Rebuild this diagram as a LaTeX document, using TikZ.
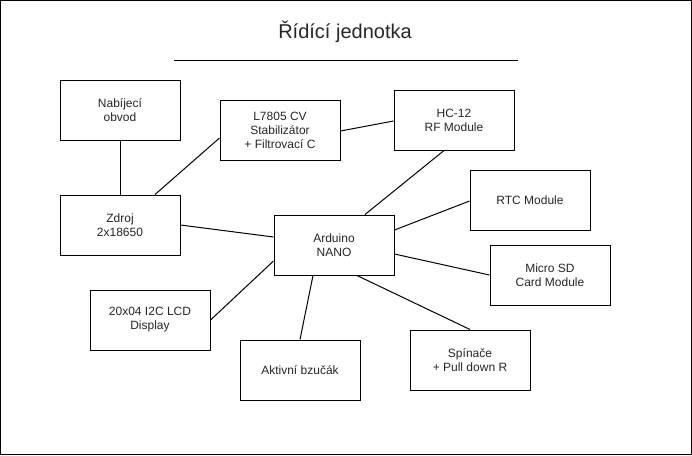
\documentclass[tikz,border=0pt]{standalone}
\usepackage{fontspec}
\setmainfont{Liberation Sans}
\usetikzlibrary{positioning, calc}
\tikzset{
    blok/.style={rectangle, draw=black, line width=0.75pt, minimum width=90pt,
        minimum height=45pt, align=center, inner sep=0pt, text=black!85,
        font=\fontsize{9}{10.5}\selectfont},
    spoj/.style={draw=black, line width=0.75pt},
    nadpis/.style={text=black!85, font=\fontsize{15}{18}\selectfont}}

\begin{document}
\begin{tikzpicture}[x=0.75pt, y=-0.75pt]
    \useasboundingbox (0,0) rectangle (692,455);
    \draw[line width=1pt] (0.7,0.7) rectangle (691.3,454.3);
    % nadpis
    \node (titul) [nadpis] at (345,32) {Řídící jednotka};
    \coordinate (cara1) at (174,60);
    \coordinate (cara2) at (518,60);
    \draw[spoj] (cara1) -- (cara2);
    % bloky
    \node (nabijeni) [blok] at (120,110) {Nabíjecí\\obvod};
    \node (zdroj) [blok] at (120,225) {Zdroj\\2x18650};
    \node (stab) [blok] at (280,130) {L7805 CV\\Stabilizátor\\+ Filtrovací C};
    \node (hc) [blok] at (454,120) {HC-12\\RF Module};
    \node (arduino) [blok] at (334,245) {Arduino\\NANO};
    \node (rtc) [blok] at (530,200) {RTC Module};
    \node (sd) [blok] at (550,275) {Micro SD\\Card Module};
    \node (lcd) [blok] at (150,320) {20x04 I2C LCD\\Display};
    \node (bzucak) [blok] at (300,370) {Aktivní bzučák};
    \node (spinace) [blok] at (470,360) {Spínače\\+ Pull down R};
    % spoje
    \draw[spoj] (nabijeni.south) -- (zdroj.north);
    \draw[spoj] ([shift={(35,0)}]zdroj.north) -- ([shift={(0,8)}]stab.west);
    \draw[spoj] (zdroj.east) -- ([shift={(0,-8)}]arduino.west);
    \draw[spoj] ([shift={(0,1)}]stab.east) -- ([shift={(0,1)}]hc.west);
    \draw[spoj] ([shift={(-10,0)}]hc.south) -- ([shift={(31,0)}]arduino.north);
    \draw[spoj] ([shift={(0,-15)}]arduino.east) -- ([shift={(0,1)}]rtc.west);
    \draw[spoj] ([shift={(0,9)}]arduino.east) -- (sd.west);
    \draw[spoj] ([shift={(23,0)}]arduino.south) -- (spinace.north);
    \draw[spoj] ([shift={(0,16)}]arduino.west) -- (lcd.east);
    \draw[spoj] ([shift={(-21,0)}]arduino.south) -- (bzucak.north);
\end{tikzpicture}
\end{document}
